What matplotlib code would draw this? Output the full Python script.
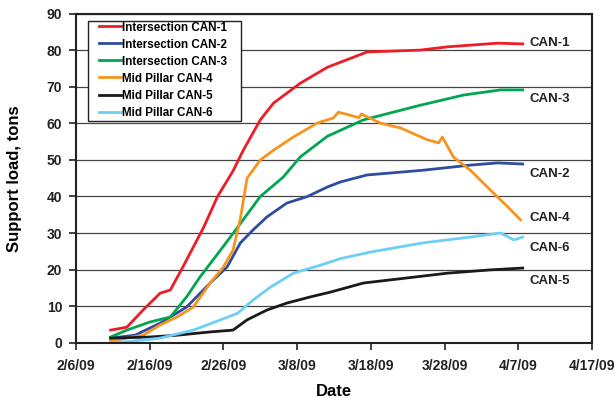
import matplotlib.pyplot as plt
from matplotlib.patches import Rectangle

plt.rcParams['font.family'] = ['Liberation Sans', 'DejaVu Sans']
plt.rcParams['font.weight'] = 'bold'

# days counted from 2/6/09
tick_days = [0, 10, 20, 30, 40, 50, 60, 70]
tick_labels = ["2/6/09", "2/16/09", "2/26/09", "3/8/09", "3/18/09", "3/28/09", "4/7/09", "4/17/09"]

can1_days = [4.7, 6.9, 9.1, 11.4, 12.8, 14.5, 17.3, 19.2, 21.3, 22.7, 25.0, 26.8, 30.4, 34.1, 39.5, 46.7, 50.4, 57.2, 60.6]
can1_vals = [3.4, 4.2, 8.9, 13.5, 14.4, 20.7, 31.5, 40.0, 47.0, 52.7, 61.0, 65.6, 71.0, 75.4, 79.6, 80.1, 81.0, 82.0, 81.8]

can2_days = [4.7, 8.0, 11.4, 15.0, 18.2, 20.5, 22.3, 24.0, 25.9, 28.6, 31.4, 34.1, 35.9, 39.5, 47.1, 53.5, 57.2, 60.6]
can2_vals = [1.2, 2.0, 5.3, 9.7, 16.3, 20.7, 27.3, 30.8, 34.4, 38.2, 40.0, 42.6, 44.0, 45.9, 47.2, 48.6, 49.2, 48.9]

can3_days = [4.7, 6.9, 10.0, 12.8, 15.0, 16.8, 19.6, 21.9, 25.0, 28.1, 30.4, 34.1, 39.0, 46.7, 52.6, 57.6, 60.6]
can3_vals = [1.5, 3.4, 5.6, 7.0, 12.5, 17.9, 25.3, 31.5, 40.0, 45.3, 50.8, 56.5, 61.0, 65.0, 67.8, 69.2, 69.2]

can4_days = [4.7, 9.1, 11.4, 13.7, 15.9, 18.2, 20.0, 21.3, 22.3, 23.2, 25.0, 26.8, 29.5, 32.7, 34.9, 35.6,
             38.4, 38.7, 41.3, 44.0, 47.7, 49.2, 49.7, 51.2, 53.5, 56.2, 58.6, 60.3]
can4_vals = [0.4, 2.0, 4.8, 7.0, 9.7, 16.3, 20.7, 25.3, 34.0, 45.0, 50.0, 52.7, 56.3, 60.1, 61.5, 63.1,
             61.6, 62.6, 60.1, 58.8, 55.5, 54.7, 56.3, 50.8, 47.2, 41.8, 37.1, 33.6]

can5_days = [4.7, 10.0, 13.7, 18.2, 21.3, 23.2, 25.9, 28.6, 31.8, 34.5, 39.0, 45.8, 50.4, 56.2, 60.6]
can5_vals = [1.2, 1.5, 2.0, 2.9, 3.4, 6.2, 8.9, 10.8, 12.5, 13.8, 16.3, 17.9, 19.0, 19.9, 20.4]

can6_days = [4.7, 6.9, 11.4, 15.9, 19.6, 21.9, 24.0, 26.4, 29.5, 33.2, 35.9, 40.0, 47.1, 53.5, 57.6, 59.4, 60.6]
can6_vals = [0.0, 0.2, 1.2, 3.4, 6.2, 8.0, 11.6, 15.2, 19.0, 21.2, 23.0, 24.8, 27.3, 28.9, 30.0, 28.1, 28.9]

series = [
    ("Intersection CAN-1", can1_days, can1_vals, "#ee1c25"),
    ("Intersection CAN-2", can2_days, can2_vals, "#2e4da0"),
    ("Intersection CAN-3", can3_days, can3_vals, "#00a651"),
    ("Mid Pillar CAN-4", can4_days, can4_vals, "#f7941d"),
    ("Mid Pillar CAN-5", can5_days, can5_vals, "#1a1a1a"),
    ("Mid Pillar CAN-6", can6_days, can6_vals, "#6dcff6"),
]

# right-hand labels (text, y value)
end_labels = [("CAN-1", 82.0), ("CAN-3", 66.7), ("CAN-2", 46.1), ("CAN-4", 34.1), ("CAN-6", 25.8), ("CAN-5", 16.8)]

fig = plt.figure(figsize=(6.15, 3.98), dpi=100)
ax = fig.add_axes([0.1236, 0.1394, 0.8390, 0.8255])

for name, d, v, c in series:
    ax.plot(d, v, color=c, lw=2, label=name)

for txt, y in end_labels:
    ax.text(61.5, y, txt, fontsize=9.5, fontweight='bold', va='center', ha='left', color='#222222')

ax.set_xlim(0, 70)
ax.set_ylim(0, 90)
ax.set_xticks(tick_days)
ax.set_xticklabels(tick_labels)
ax.set_yticks(range(0, 91, 10))
ax.tick_params(labelsize=10, direction='out', length=5, width=1.2, colors='#222222')
ax.tick_params(axis='x', pad=7)
ax.tick_params(axis='y', pad=5)
ax.yaxis.grid(True, color='#444444', lw=0.9)
ax.set_axisbelow(True)
for s in ax.spines.values():
    s.set_linewidth(1.5)
    s.set_color('#222222')

ax.set_xlabel("Date", fontsize=12, fontweight='bold', labelpad=8)
ax.set_ylabel("Support load, tons", fontsize=12, fontweight='bold')
ax.yaxis.set_label_coords(-0.104, 0.5)

# legend box drawn separately (Excel-like wide frame)
ax.add_patch(Rectangle((0.0232, 0.674), 0.296, 0.305, transform=ax.transAxes,
                       facecolor='white', edgecolor='#222222', lw=1.0, zorder=4))
leg = ax.legend(loc='upper left', bbox_to_anchor=(0.0445, 0.977), borderaxespad=0, borderpad=0,
                fontsize=8.4, frameon=False, handlelength=1.88, handletextpad=0.1,
                labelspacing=0.43)
leg.set_zorder(5)

fig.savefig("out.png", dpi=100)
